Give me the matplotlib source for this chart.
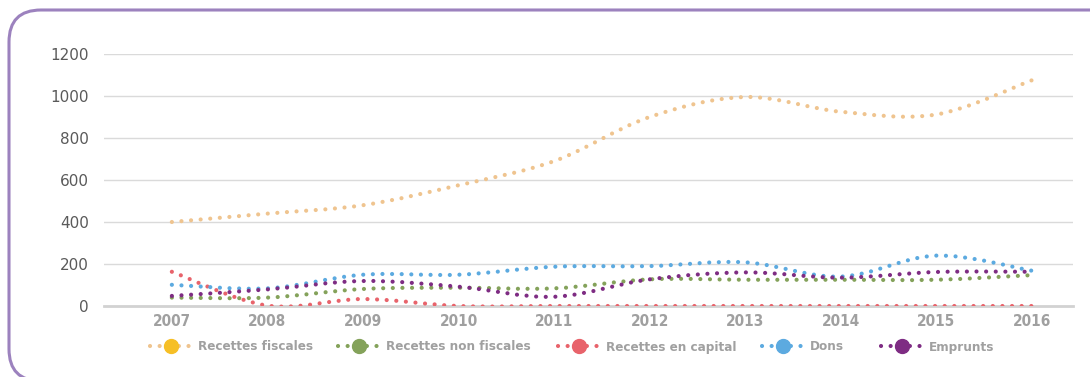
import matplotlib
matplotlib.use("Agg")
import matplotlib.pyplot as plt
from matplotlib.path import Path
from matplotlib.patches import PathPatch, FancyBboxPatch
from matplotlib.lines import Line2D
from matplotlib.transforms import IdentityTransform, ScaledTranslation
from matplotlib import font_manager

years = ["2007", "2008", "2009", "2010", "2011", "2012", "2013", "2014", "2015", "2016"]

recettes_fiscales = [400, 440, 480, 575, 690, 900, 995, 925, 912, 1075]
recettes_non_fiscales = [40, 40, 81, 87, 84, 127, 125, 125, 125, 147]
recettes_capital = [163, 2, 33, 0, 0, 0, 0, 0, 0, 0]
dons = [101, 84, 149, 149, 187, 190, 208, 140, 240, 168]
emprunts = [48, 79, 119, 92, 44, 127, 160, 135, 162, 163]

series = [
    ("Recettes fiscales", recettes_fiscales, "#EFC48F", "#F6BF26"),
    ("Recettes non fiscales", recettes_non_fiscales, "#84A25A", "#84A25A"),
    ("Recettes en capital", recettes_capital, "#E8636B", "#E8636B"),
    ("Dons", dons, "#5CAAE0", "#5CAAE0"),
    ("Emprunts", emprunts, "#7E2C83", "#7E2C83"),
]
# left edge of each legend entry, in pixels
legend_x = [150, 338, 558, 762, 881]

# a condensed bold face for the labels
cond_file = None
for f in font_manager.findSystemFonts():
    n = f.lower()
    if "dejavusanscondensed-bold." in n.replace("_", ""):
        cond_file = f
        break
if cond_file:
    cond_prop = dict(fname=cond_file)
else:
    cond_prop = dict(family="DejaVu Sans", weight="bold", stretch="condensed")


def smooth_path(xs, ys):
    # bezier segments through the points (excel style smoothed line)
    n = len(xs)
    verts = [(xs[0], ys[0])]
    codes = [Path.MOVETO]
    for i in range(n - 1):
        x0, y0 = xs[max(i - 1, 0)], ys[max(i - 1, 0)]
        x1, y1 = xs[i], ys[i]
        x2, y2 = xs[i + 1], ys[i + 1]
        x3, y3 = xs[min(i + 2, n - 1)], ys[min(i + 2, n - 1)]
        c1 = (x1 + (x2 - x0) / 6, y1 + (y2 - y0) / 6)
        c2 = (x2 - (x3 - x1) / 6, y2 - (y3 - y1) / 6)
        verts += [c1, c2, (x2, y2)]
        codes += [Path.CURVE4] * 3
    return Path(verts, codes)


fig = plt.figure(figsize=(10.9, 3.77), dpi=100)
ax = fig.add_axes([104 / 1090, 71 / 377, 969 / 1090, 252 / 377])

xs = list(range(len(years)))
dot = (0, (0.01, 2.3))
for name, vals, lc, mc in series:
    p = PathPatch(smooth_path(xs, vals), fill=False, edgecolor=lc, lw=3.0,
                  linestyle=dot, capstyle="round", zorder=3)
    ax.add_patch(p)

ax.set_xlim(-0.71, 9.43)
ax.set_ylim(0, 1200)
ax.set_yticks(range(0, 1201, 200))
ax.set_xticks(xs)
ax.set_xticklabels(years)
for lab in ax.get_xticklabels():
    lab.set_fontproperties(font_manager.FontProperties(size=11, **cond_prop))
    lab.set_color("#A0A0A0")
up = ScaledTranslation(0, 4 / 100, fig.dpi_scale_trans)
for lab in ax.get_yticklabels():
    lab.set_fontsize(11)
    lab.set_color("#5A5A5A")
    lab.set_transform(lab.get_transform() + up)
ax.tick_params(length=0)
ax.tick_params(axis="y", pad=11)
ax.tick_params(axis="x", pad=6)
ax.grid(axis="y", color="#DADADA", lw=1)
ax.set_axisbelow(True)
for s in ["top", "right", "left"]:
    ax.spines[s].set_visible(False)
ax.spines["bottom"].set_color("#D2D2D2")
ax.spines["bottom"].set_linewidth(2)

for (name, vals, lc, mc), lx in zip(series, legend_x):
    h = Line2D([], [], color=lc, lw=3.0, linestyle=dot, dash_capstyle="round",
               marker="o", markersize=10, markerfacecolor=mc, markeredgecolor=mc)
    leg = fig.legend([h], [name], loc="center left",
                     bbox_to_anchor=(lx / 1090, 1 - 347 / 377), frameon=False,
                     borderaxespad=0, borderpad=0,
                     handlelength=3.1, handletextpad=0.5,
                     prop=font_manager.FontProperties(size=9.6, **cond_prop))
    for t in leg.get_texts():
        t.set_color("#A0A0A0")

border = FancyBboxPatch((9, -4), 1300, 371, boxstyle="round,pad=0,rounding_size=32",
                        transform=IdentityTransform(), fill=False,
                        edgecolor="#9C82BE", lw=2.2)
fig.patches.append(border)

fig.savefig("out.png", dpi=100)
